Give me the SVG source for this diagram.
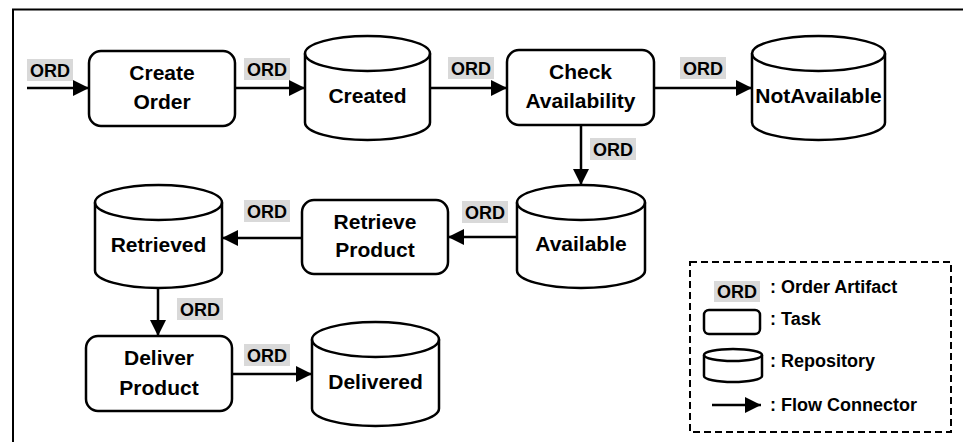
<svg xmlns="http://www.w3.org/2000/svg" width="963" height="442" viewBox="0 0 963 442">
<style>
.shape{fill:#fff;stroke:#000;stroke-width:2.5}
.line{fill:none;stroke:#000;stroke-width:2.5}
.conn{fill:none;stroke:#000;stroke-width:2.5;marker-end:url(#arrow)}
.lbl{font-family:"Liberation Sans",Arial,sans-serif;font-weight:bold;font-size:21px;text-anchor:middle;fill:#000}
.ordbg{fill:#d9d9d9}
.ord{font-family:"Liberation Sans",Arial,sans-serif;font-weight:bold;font-size:18px;text-anchor:middle;fill:#000}
.leg{font-family:"Liberation Sans",Arial,sans-serif;font-weight:bold;font-size:18px;fill:#000}
</style>
<defs>
<marker id="arrow" viewBox="0 0 16 16" refX="16" refY="8" markerWidth="16" markerHeight="16" markerUnits="userSpaceOnUse" orient="auto">
<path d="M0,0 L16,8 L0,16 Z" fill="#000"/>
</marker>
</defs>
<rect width="963" height="442" fill="#fff"/>
<rect x="13" y="9.5" width="1000" height="500" fill="none" stroke="#000" stroke-width="2"/>

<g id="connectors">
<line class="conn" x1="27" y1="88" x2="89" y2="88"/>
<line class="conn" x1="235" y1="88" x2="305" y2="88"/>
<line class="conn" x1="430" y1="88" x2="507" y2="88"/>
<line class="conn" x1="654" y1="88" x2="752" y2="88"/>
<line class="conn" x1="581" y1="125" x2="581" y2="185"/>
<line class="conn" x1="517" y1="237" x2="448" y2="237"/>
<line class="conn" x1="302" y1="238" x2="222" y2="238"/>
<line class="conn" x1="158" y1="288" x2="158" y2="336"/>
<line class="conn" x1="232" y1="374" x2="312" y2="374"/>
</g>

<g id="artifact-labels">
<rect class="ordbg" x="27" y="59" width="46" height="22"/><text class="ord" x="50" y="77">ORD</text>
<rect class="ordbg" x="244" y="58" width="46" height="22"/><text class="ord" x="267" y="76">ORD</text>
<rect class="ordbg" x="448" y="57" width="46" height="22"/><text class="ord" x="471" y="75">ORD</text>
<rect class="ordbg" x="680" y="57" width="46" height="22"/><text class="ord" x="703" y="75">ORD</text>
<rect class="ordbg" x="590" y="138" width="46" height="22"/><text class="ord" x="613" y="156">ORD</text>
<rect class="ordbg" x="462" y="201" width="46" height="22"/><text class="ord" x="485" y="219">ORD</text>
<rect class="ordbg" x="244" y="200" width="46" height="22"/><text class="ord" x="267" y="218">ORD</text>
<rect class="ordbg" x="177" y="298" width="46" height="22"/><text class="ord" x="200" y="316">ORD</text>
<rect class="ordbg" x="244" y="344" width="46" height="22"/><text class="ord" x="267" y="362">ORD</text>
</g>

<g id="create-order">
<rect class="shape" x="89" y="51" width="146" height="75" rx="12"/>
<text class="lbl" x="162" y="80">Create</text>
<text class="lbl" x="162" y="109">Order</text>
</g>

<g id="created">
<path class="shape" d="M305,53.5 V122.5 A62.5,17.5 0 0 0 430,122.5 V53.5 A62.5,17.5 0 0 0 305,53.5 Z"/>
<path class="line" d="M305,53.5 A62.5,17.5 0 0 0 430,53.5"/>
<text class="lbl" x="367.5" y="103">Created</text>
</g>

<g id="check-availability">
<rect class="shape" x="507" y="50" width="147" height="75" rx="12"/>
<text class="lbl" x="580.5" y="79">Check</text>
<text class="lbl" x="580.5" y="108">Availability</text>
</g>

<g id="not-available">
<path class="shape" d="M752,53.5 V122.5 A66.5,17.5 0 0 0 885,122.5 V53.5 A66.5,17.5 0 0 0 752,53.5 Z"/>
<path class="line" d="M752,53.5 A66.5,17.5 0 0 0 885,53.5"/>
<text class="lbl" x="818.5" y="103">NotAvailable</text>
</g>

<g id="available">
<path class="shape" d="M517,202.5 V270.5 A64,17.5 0 0 0 645,270.5 V202.5 A64,17.5 0 0 0 517,202.5 Z"/>
<path class="line" d="M517,202.5 A64,17.5 0 0 0 645,202.5"/>
<text class="lbl" x="581" y="251">Available</text>
</g>

<g id="retrieve-product">
<rect class="shape" x="302" y="200" width="146" height="74" rx="12"/>
<text class="lbl" x="375" y="229">Retrieve</text>
<text class="lbl" x="375" y="257">Product</text>
</g>

<g id="retrieved">
<path class="shape" d="M95,202.5 V270.5 A63.5,17.5 0 0 0 222,270.5 V202.5 A63.5,17.5 0 0 0 95,202.5 Z"/>
<path class="line" d="M95,202.5 A63.5,17.5 0 0 0 222,202.5"/>
<text class="lbl" x="158.5" y="252">Retrieved</text>
</g>

<g id="deliver-product">
<rect class="shape" x="86" y="336" width="146" height="75" rx="12"/>
<text class="lbl" x="159" y="365">Deliver</text>
<text class="lbl" x="159" y="395">Product</text>
</g>

<g id="delivered">
<path class="shape" d="M312,339.5 V408.5 A63.5,17.5 0 0 0 439,408.5 V339.5 A63.5,17.5 0 0 0 312,339.5 Z"/>
<path class="line" d="M312,339.5 A63.5,17.5 0 0 0 439,339.5"/>
<text class="lbl" x="375.5" y="389">Delivered</text>
</g>

<g id="legend">
<rect x="690" y="262" width="261" height="170" fill="none" stroke="#000" stroke-width="2" stroke-dasharray="7,4"/>
<rect class="ordbg" x="714" y="281" width="46" height="21"/><text class="ord" x="737" y="298">ORD</text>
<text class="leg" x="770" y="293">: Order Artifact</text>
<rect class="shape" x="704" y="310" width="56" height="24" rx="5"/>
<text class="leg" x="770" y="325">: Task</text>
<path class="shape" d="M704,355 V376 A29,6 0 0 0 762,376 V355 A29,6 0 0 0 704,355 Z"/>
<path class="line" d="M704,355 A29,6 0 0 0 762,355"/>
<text class="leg" x="770" y="367">: Repository</text>
<line class="conn" x1="712" y1="405" x2="761" y2="405"/>
<text class="leg" x="770" y="411">: Flow Connector</text>
</g>
</svg>
